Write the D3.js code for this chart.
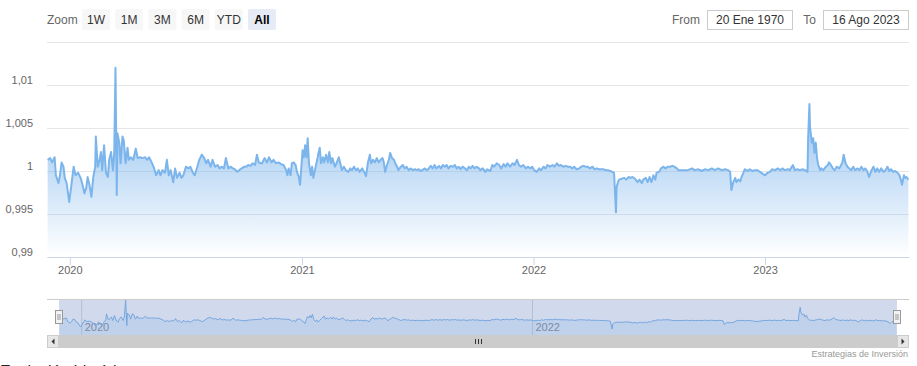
<!DOCTYPE html>
<html>
<head>
<meta charset="utf-8">
<script src="https://cdn.jsdelivr.net/npm/d3@7"></script>
<style>
    body { margin: 0; background: #fff; overflow: hidden; }
    svg { display: block; font-family: "Liberation Sans", Arial, sans-serif; }
</style>
</head>
<body>
<svg id="chart" width="917" height="366"></svg>
<script>
// readings
const dates = [
    "2019-11-27","2019-12-01","2019-12-04","2019-12-08","2019-12-10","2019-12-14","2019-12-16","2019-12-19","2019-12-22","2019-12-24","2019-12-27","2019-12-31",
    "2020-01-03","2020-01-07","2020-01-10","2020-01-14","2020-01-18","2020-01-21","2020-01-24","2020-01-27","2020-01-29","2020-02-01","2020-02-04","2020-02-07",
    "2020-02-10","2020-02-11","2020-02-14","2020-02-17","2020-02-19","2020-02-21","2020-02-24","2020-02-27","2020-03-01","2020-03-03","2020-03-06","2020-03-09",
    "2020-03-11","2020-03-13","2020-03-15","2020-03-16","2020-03-19","2020-03-21","2020-03-24","2020-03-26","2020-03-29","2020-04-01","2020-04-03","2020-04-06",
    "2020-04-10","2020-04-14","2020-04-17","2020-04-21","2020-04-24","2020-04-29","2020-05-02","2020-05-05","2020-05-09","2020-05-13","2020-05-16","2020-05-20",
    "2020-05-23","2020-05-26","2020-05-30","2020-06-02","2020-06-05","2020-06-08","2020-06-12","2020-06-15","2020-06-18","2020-06-22","2020-06-25","2020-06-28",
    "2020-07-02","2020-07-06","2020-07-09","2020-07-13","2020-07-16","2020-07-20","2020-07-23","2020-07-27","2020-07-31","2020-08-03","2020-08-06","2020-08-10",
    "2020-08-13","2020-08-17","2020-08-21","2020-08-24","2020-08-27","2020-08-31","2020-09-03","2020-09-07","2020-09-11","2020-09-14","2020-09-17","2020-09-21",
    "2020-09-24","2020-09-28","2020-10-02","2020-10-05","2020-10-08","2020-10-12","2020-10-15","2020-10-19","2020-10-22","2020-10-25","2020-10-28","2020-10-30",
    "2020-11-03","2020-11-07","2020-11-10","2020-11-14","2020-11-17","2020-11-21","2020-11-25","2020-11-29","2020-12-03","2020-12-07","2020-12-09","2020-12-11",
    "2020-12-14","2020-12-16","2020-12-19","2020-12-22","2020-12-24","2020-12-27","2020-12-29","2020-12-31",
    "2021-01-02","2021-01-04","2021-01-06","2021-01-08","2021-01-10","2021-01-12","2021-01-15","2021-01-17","2021-01-19","2021-01-22","2021-01-25","2021-01-27",
    "2021-01-29","2021-01-31","2021-02-03","2021-02-05","2021-02-08","2021-02-11","2021-02-13","2021-02-16","2021-02-18","2021-02-22","2021-02-25","2021-02-28",
    "2021-03-03","2021-03-05","2021-03-08","2021-03-11","2021-03-15","2021-03-18","2021-03-21","2021-03-24","2021-03-27","2021-03-30","2021-04-02","2021-04-06",
    "2021-04-09","2021-04-12","2021-04-15","2021-04-18","2021-04-20","2021-04-23","2021-04-26","2021-04-29","2021-05-02","2021-05-05","2021-05-08","2021-05-10",
    "2021-05-12","2021-05-15","2021-05-18","2021-05-20","2021-05-23","2021-05-26","2021-05-28","2021-05-31","2021-06-02","2021-06-06","2021-06-09","2021-06-12",
    "2021-06-15","2021-06-18","2021-06-21","2021-06-25","2021-06-28","2021-07-01","2021-07-04","2021-07-07","2021-07-10","2021-07-13","2021-07-17","2021-07-20",
    "2021-07-23","2021-07-26","2021-07-29","2021-08-01","2021-08-05","2021-08-08","2021-08-11","2021-08-14","2021-08-17","2021-08-20","2021-08-23","2021-08-27",
    "2021-08-30","2021-09-02","2021-09-05","2021-09-08","2021-09-11","2021-09-15","2021-09-18","2021-09-21","2021-09-24","2021-09-27","2021-09-30","2021-10-03",
    "2021-10-07","2021-10-09","2021-10-13","2021-10-17","2021-10-20","2021-10-25","2021-10-28","2021-10-31","2021-11-04","2021-11-08","2021-11-11","2021-11-15",
    "2021-11-18","2021-11-21","2021-11-25","2021-11-29","2021-12-02","2021-12-06","2021-12-09","2021-12-12","2021-12-16","2021-12-20","2021-12-23","2021-12-27",
    "2021-12-30",
    "2022-01-02","2022-01-06","2022-01-10","2022-01-13","2022-01-17","2022-01-20","2022-01-23","2022-01-27","2022-01-31","2022-02-03","2022-02-07","2022-02-10",
    "2022-02-13","2022-02-17","2022-02-21","2022-02-24","2022-02-28","2022-03-03","2022-03-06","2022-03-10","2022-03-14","2022-03-17","2022-03-21","2022-03-24",
    "2022-03-27","2022-03-31","2022-04-04","2022-04-07","2022-04-11","2022-04-14","2022-04-17","2022-04-21","2022-04-25","2022-04-28","2022-05-02","2022-05-05",
    "2022-05-08","2022-05-11","2022-05-12","2022-05-14","2022-05-16","2022-05-20","2022-05-24","2022-05-27","2022-05-31","2022-06-03","2022-06-06","2022-06-10",
    "2022-06-14","2022-06-17","2022-06-21","2022-06-23","2022-06-27","2022-06-30","2022-07-03","2022-07-06","2022-07-09","2022-07-12","2022-07-14","2022-07-18",
    "2022-07-21","2022-07-25","2022-07-28","2022-08-01","2022-08-04","2022-08-08","2022-08-11","2022-08-15","2022-08-18","2022-08-22","2022-08-25","2022-08-29",
    "2022-09-01","2022-09-05","2022-09-08","2022-09-12","2022-09-18","2022-09-23","2022-09-28","2022-10-04","2022-10-09","2022-10-14","2022-10-19","2022-10-25",
    "2022-10-30","2022-11-04","2022-11-07","2022-11-09","2022-11-12","2022-11-15","2022-11-17","2022-11-20","2022-11-23","2022-11-25","2022-11-28","2022-11-30",
    "2022-12-05","2022-12-08","2022-12-12","2022-12-16","2022-12-20","2022-12-24","2022-12-28",
    "2023-01-01","2023-01-05","2023-01-09","2023-01-12","2023-01-17","2023-01-21","2023-01-25","2023-01-29","2023-02-01","2023-02-06","2023-02-09","2023-02-14",
    "2023-02-17","2023-02-21","2023-02-25","2023-03-01","2023-03-05","2023-03-09","2023-03-10","2023-03-12","2023-03-13","2023-03-16","2023-03-18","2023-03-20",
    "2023-03-22","2023-03-24","2023-03-26","2023-03-29","2023-03-31","2023-04-03","2023-04-07","2023-04-10","2023-04-12","2023-04-15","2023-04-18","2023-04-21",
    "2023-04-24","2023-04-28","2023-05-01","2023-05-03","2023-05-05","2023-05-08","2023-05-11","2023-05-14","2023-05-17","2023-05-20","2023-05-23","2023-05-27",
    "2023-05-30","2023-06-02","2023-06-05","2023-06-08","2023-06-11","2023-06-14","2023-06-18","2023-06-21","2023-06-24","2023-06-27","2023-06-30","2023-07-03",
    "2023-07-07","2023-07-10","2023-07-13","2023-07-16","2023-07-19","2023-07-22","2023-07-25","2023-07-29","2023-08-01","2023-08-03","2023-08-05","2023-08-08",
    "2023-08-10","2023-08-12","2023-08-15"
];

const values = [
    1.0013,1.0015,1.0010,1.0016,0.9995,0.9986,0.9993,1.0010,1.0005,0.9992,0.9986,0.9964,
    0.9981,1.0005,0.9995,0.9998,0.9992,0.9984,0.9974,0.9981,0.9993,0.9984,0.9970,0.9993,
    1.0005,1.0040,1.0005,1.0013,1.0022,1.0001,1.0030,0.9998,0.9993,1.0013,1.0022,1.0001,
    1.0021,1.0120,0.9972,1.0044,1.0033,1.0009,1.0040,1.0036,1.0009,1.0027,1.0013,1.0016,
    1.0013,1.0026,1.0015,1.0016,1.0015,1.0016,1.0013,1.0016,1.0010,1.0003,0.9995,1.0001,
    0.9995,1.0001,0.9998,1.0013,0.9995,1.0001,0.9987,1.0003,0.9992,0.9998,0.9992,0.9995,
    1.0005,1.0003,1.0005,0.9998,0.9995,1.0005,1.0013,1.0019,1.0015,1.0009,1.0013,1.0005,
    1.0013,1.0005,1.0007,1.0003,1.0005,1.0003,1.0015,1.0003,1.0005,1.0003,1.0002,0.9999,
    1.0001,1.0003,1.0005,1.0005,1.0007,1.0006,1.0009,1.0007,1.0019,1.0010,1.0009,1.0009,
    1.0015,1.0010,1.0016,1.0010,1.0013,1.0009,1.0010,1.0008,1.0007,1.0001,0.9995,1.0003,
    0.9995,1.0009,1.0010,1.0007,0.9999,0.9993,0.9984,1.0005,
    1.0024,1.0016,1.0030,1.0016,1.0038,1.0009,0.9995,1.0005,0.9992,1.0003,1.0013,1.0021,
    1.0027,1.0009,1.0016,1.0010,1.0019,1.0010,1.0022,1.0009,1.0015,1.0005,1.0010,1.0016,
    1.0007,1.0001,1.0005,1.0001,0.9999,1.0003,1.0001,1.0005,1.0001,1.0003,0.9999,1.0003,
    0.9999,0.9994,1.0010,1.0019,1.0009,1.0013,1.0010,1.0015,1.0010,1.0013,1.0015,1.0010,
    0.9999,1.0007,1.0013,1.0021,1.0015,1.0013,1.0009,1.0005,1.0001,1.0005,1.0007,1.0003,
    1.0005,1.0001,1.0003,1.0001,1.0002,1.0001,1.0002,1.0000,1.0001,1.0003,1.0001,1.0003,
    1.0006,1.0003,1.0007,1.0003,1.0006,1.0003,1.0007,1.0005,1.0007,1.0003,1.0006,1.0005,
    1.0007,1.0003,1.0005,1.0002,1.0005,1.0003,1.0001,1.0005,1.0003,1.0006,1.0003,1.0005,
    1.0003,1.0001,1.0003,0.9999,1.0002,1.0000,1.0007,1.0005,1.0009,1.0007,1.0003,1.0008,
    1.0005,1.0009,1.0005,1.0009,1.0007,1.0013,1.0007,1.0005,1.0007,1.0003,1.0005,1.0003,
    1.0005,
    1.0001,0.9999,1.0003,1.0001,1.0005,1.0003,1.0007,1.0005,1.0007,1.0005,1.0009,1.0006,
    1.0007,1.0005,1.0006,1.0005,1.0005,1.0003,1.0005,1.0002,1.0003,1.0005,1.0006,1.0005,
    1.0005,1.0003,1.0005,1.0002,1.0003,1.0002,1.0002,1.0002,1.0001,1.0001,1.0000,0.9999,
    0.9998,0.9952,0.9981,0.9987,0.9990,0.9991,0.9992,0.9990,0.9993,0.9992,0.9993,0.9991,
    0.9987,0.9990,0.9986,0.9990,0.9992,0.9987,0.9993,0.9987,0.9995,0.9990,0.9998,0.9999,
    1.0003,1.0005,1.0003,1.0005,1.0005,1.0006,1.0005,1.0003,1.0001,1.0001,1.0001,1.0001,
    1.0001,1.0002,1.0003,1.0001,1.0002,1.0000,1.0002,1.0001,1.0003,1.0001,1.0003,1.0001,
    1.0002,1.0001,0.9999,0.9978,0.9987,0.9992,0.9987,0.9990,0.9988,0.9993,0.9998,1.0002,
    1.0000,1.0002,1.0000,1.0001,1.0001,0.9999,0.9997,
    0.9995,0.9998,0.9999,1.0002,1.0001,1.0003,1.0001,1.0003,1.0001,1.0002,1.0001,1.0007,
    1.0001,1.0002,1.0001,1.0002,1.0001,0.9999,1.0038,1.0078,1.0050,1.0033,1.0038,1.0021,
    1.0033,1.0015,1.0007,1.0001,1.0003,1.0001,1.0005,1.0007,1.0010,1.0007,1.0003,1.0001,
    1.0005,1.0003,1.0007,1.0010,1.0019,1.0009,1.0005,1.0003,1.0001,1.0005,1.0001,1.0003,
    1.0001,1.0005,1.0001,1.0003,1.0000,0.9993,1.0001,1.0005,0.9999,1.0003,0.9999,1.0003,
    0.9999,1.0001,1.0005,1.0000,1.0002,0.9999,1.0000,0.9998,0.9995,0.9990,0.9984,0.9995,
    0.9992,0.9993,0.9990
];

const xExtent = ["2019-11-26", "2023-08-16"];
const yTicks = [0.99, 0.995, 1, 1.005, 1.01, 1.015];
const zoomButtons = ["1W", "1M", "3M", "6M", "YTD", "All"];
const rangeFrom = "20 Ene 1970";
const rangeTo = "16 Ago 2023";
const credits = "Estrategias de Inversión";
const footer = "Evolución histórica";

const parse = d3.utcParse("%Y-%m-%d");
const data = dates.map((d, i) => ({ date: parse(d), value: values[i] }));
const domainX = xExtent.map(parse);
const fmt = d3.formatLocale({ decimal: ",", thousands: ".", grouping: [3], currency: ["", "€"] }).format("~g");

const svg = d3.select("#chart");
const plotLeft = 47, plotRight = 909, plotTop = 42, plotBottom = 257;

const x = d3.scaleUtc().domain(domainX).range([plotLeft, plotRight]);
const y = d3.scaleLinear().domain([yTicks[0], yTicks[yTicks.length - 1]]).range([plotBottom, plotTop]);

// area gradient
const grad = svg.append("defs").append("linearGradient")
    .attr("id", "areaFill")
    .attr("gradientUnits", "userSpaceOnUse")
    .attr("x1", 0).attr("x2", 0)
    .attr("y1", y(d3.max(values))).attr("y2", plotBottom);
grad.append("stop").attr("offset", 0).attr("stop-color", "#7cb5ec").attr("stop-opacity", 1);
grad.append("stop").attr("offset", 1).attr("stop-color", "#7cb5ec").attr("stop-opacity", 0);

// grid
svg.append("g")
    .attr("transform", `translate(${plotLeft},0)`)
    .call(d3.axisLeft(y).tickValues(yTicks).tickSize(-(plotRight - plotLeft)).tickFormat(""))
    .call(g => g.select(".domain").remove())
    .call(g => g.selectAll("line").attr("stroke", "#e6e6e6"));

// y labels
svg.append("g")
    .attr("transform", `translate(${plotLeft},0)`)
    .call(d3.axisLeft(y).tickValues(yTicks.slice(0, -1)).tickSize(0).tickPadding(14).tickFormat(fmt))
    .call(g => g.select(".domain").remove())
    .call(g => g.selectAll("text")
        .attr("dy", -2)
        .attr("fill", "#666")
        .style("font-size", "11px")
        .style("font-family", "'Liberation Sans', Arial, sans-serif"));

const area = d3.area()
    .x(d => x(d.date))
    .y0(plotBottom)
    .y1(d => y(d.value));

const line = d3.line()
    .x(d => x(d.date))
    .y(d => y(d.value));

svg.append("path").datum(data).attr("d", area).attr("fill", "url(#areaFill)");
svg.append("path").datum(data).attr("d", line)
    .attr("fill", "none")
    .attr("stroke", "#7cb5ec")
    .attr("stroke-width", 2)
    .attr("stroke-linejoin", "round");

// x axis
svg.append("g")
    .attr("transform", `translate(0,${plotBottom})`)
    .call(d3.axisBottom(x).ticks(d3.utcYear.every(1)).tickFormat(d3.utcFormat("%Y")).tickSize(8).tickSizeOuter(0).tickPadding(1))
    .call(g => g.select(".domain").attr("stroke", "#ccd6eb"))
    .call(g => g.selectAll(".tick line").attr("stroke", "#ccd6eb"))
    .call(g => g.selectAll("text")
        .attr("fill", "#666")
        .style("font-size", "11px")
        .style("font-family", "'Liberation Sans', Arial, sans-serif"));

// navigator
const navTop = 299, navBottom = 335, navLeft = 59, navRight = 897;
const xNav = d3.scaleUtc().domain(domainX).range([navLeft, navRight]);
const yNav = d3.scaleLinear().domain(d3.extent(values)).range([329, 300]);

svg.append("g")
    .attr("transform", `translate(0,${navBottom})`)
    .call(d3.axisBottom(xNav).ticks(d3.utcYear.every(2)).tickFormat(d3.utcFormat("%Y")).tickSize(-(navBottom - navTop)).tickSizeOuter(0))
    .call(g => g.select(".domain").remove())
    .call(g => g.selectAll(".tick line").attr("stroke", "#d8d8d8"))
    .call(g => g.selectAll("text")
        .attr("x", 3).attr("y", -4).attr("dy", 0)
        .attr("text-anchor", "start")
        .attr("fill", "#888")
        .style("font-size", "11px")
        .style("font-family", "'Liberation Sans', Arial, sans-serif"));

svg.append("path").datum(data)
    .attr("d", d3.area().x(d => xNav(d.date)).y0(navBottom).y1(d => yNav(d.value)))
    .attr("fill", "#7cb5ec").attr("fill-opacity", 0.18);
svg.append("path").datum(data)
    .attr("d", d3.line().x(d => xNav(d.date)).y(d => yNav(d.value)))
    .attr("fill", "none").attr("stroke", "#7cb5ec").attr("stroke-width", 1);

svg.append("rect")
    .attr("x", navLeft).attr("y", navTop)
    .attr("width", navRight - navLeft).attr("height", navBottom - navTop)
    .attr("fill", "rgba(102,133,194,0.3)");

svg.append("line")
    .attr("x1", plotLeft).attr("x2", plotRight)
    .attr("y1", navTop + 0.5).attr("y2", navTop + 0.5)
    .attr("stroke", "#cccccc");

[navLeft, navRight].forEach(hx => {
    const h = svg.append("g").attr("transform", `translate(${Math.round(hx) - 3.5},310.5)`);
    h.append("rect").attr("width", 7).attr("height", 13)
        .attr("fill", "#f2f2f2").attr("stroke", "#999");
    h.append("path").attr("d", "M2.5,3.5V9.5M4.5,3.5V9.5").attr("stroke", "#999").attr("fill", "none");
});

// scrollbar
const sbTop = 335, sbH = 13;
svg.append("rect").attr("x", plotLeft).attr("y", sbTop).attr("width", plotRight - plotLeft).attr("height", sbH).attr("fill", "#f2f2f2");
svg.append("rect").attr("x", navLeft).attr("y", sbTop).attr("width", navRight - navLeft).attr("height", sbH).attr("fill", "#cccccc");
[[plotLeft, -1], [navRight, 1]].forEach(([bx, dir]) => {
    svg.append("rect")
        .attr("x", bx + 0.5).attr("y", sbTop + 0.5)
        .attr("width", navLeft - plotLeft - 1).attr("height", sbH - 1)
        .attr("fill", "#e6e6e6").attr("stroke", "#cccccc");
    const cx = bx + (navLeft - plotLeft) / 2, cy = sbTop + sbH / 2;
    svg.append("path")
        .attr("d", `M${cx - 1.5 * dir},${cy - 3}L${cx - 1.5 * dir},${cy + 3}L${cx + 1.5 * dir},${cy}Z`)
        .attr("fill", "#333");
});
const gx = (navLeft + navRight) / 2;
svg.append("path")
    .attr("d", [-3, 0, 3].map(o => `M${Math.round(gx + o) + 0.5},${sbTop + 4}V${sbTop + 9}`).join(""))
    .attr("stroke", "#333").attr("fill", "none");

// range selector
const fontBtn = "'Liberation Sans', Arial, sans-serif";
svg.append("text").attr("x", 47).attr("y", 24).text("Zoom")
    .attr("fill", "#666").style("font-size", "12px").style("font-family", fontBtn);

const btn = svg.selectAll(".btn").data(zoomButtons).enter().append("g")
    .attr("class", "btn")
    .attr("transform", (d, i) => `translate(${82 + i * 33.2},9)`);
btn.append("rect").attr("width", 28).attr("height", 21).attr("rx", 2)
    .attr("fill", d => d === "All" ? "#e6ebf5" : "#f7f7f7");
btn.append("text").attr("x", 14).attr("y", 15).attr("text-anchor", "middle")
    .text(d => d)
    .attr("fill", d => d === "All" ? "#000" : "#333")
    .style("font-weight", d => d === "All" ? "bold" : "normal")
    .style("font-size", "12px").style("font-family", fontBtn);

svg.append("text").attr("x", 700).attr("y", 24).attr("text-anchor", "end").text("From")
    .attr("fill", "#666").style("font-size", "12px").style("font-family", fontBtn);
svg.append("text").attr("x", 816).attr("y", 24).attr("text-anchor", "end").text("To")
    .attr("fill", "#666").style("font-size", "12px").style("font-family", fontBtn);

[[707.5, 85, rangeFrom], [823.5, 85, rangeTo]].forEach(([bx, bw, label]) => {
    svg.append("rect").attr("x", bx).attr("y", 10.5).attr("width", bw).attr("height", 19)
        .attr("fill", "#fff").attr("stroke", "#cccccc");
    svg.append("text").attr("x", bx + bw / 2).attr("y", 24).attr("text-anchor", "middle").text(label)
        .attr("fill", "#333").style("font-size", "12px").style("font-family", fontBtn);
});

// credits + footer line that the window crops
svg.append("text").attr("x", 908).attr("y", 357).attr("text-anchor", "end").text(credits)
    .attr("fill", "#999").style("font-size", "9px").style("font-family", fontBtn);
svg.append("text").attr("x", 0).attr("y", 377).text(footer)
    .attr("fill", "#222").style("font-size", "16px").style("font-family", fontBtn);
</script>
</body>
</html>
